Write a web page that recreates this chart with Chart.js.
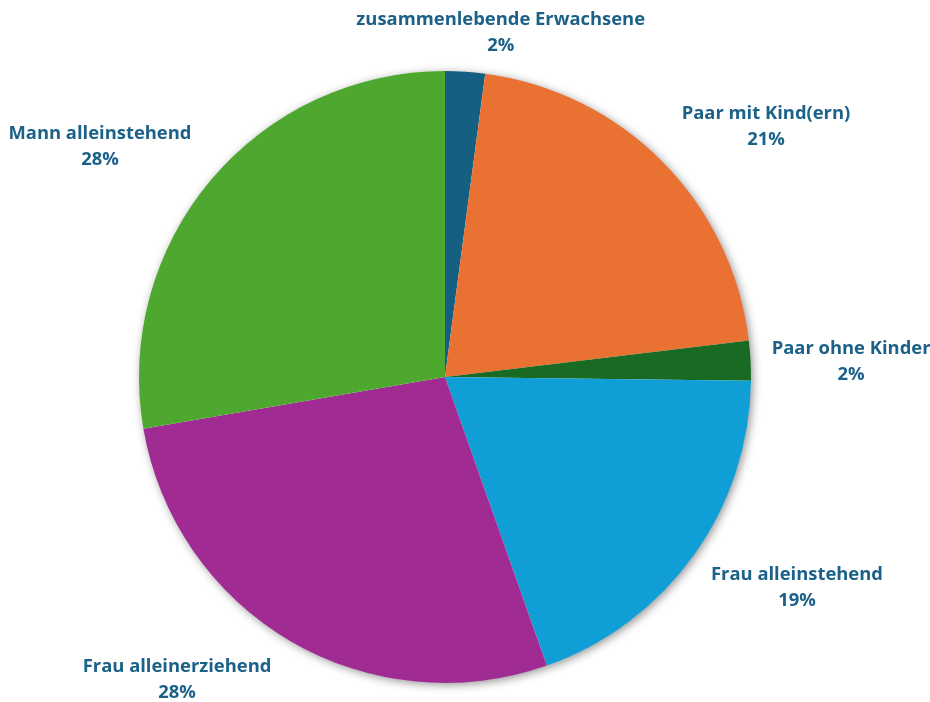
<!DOCTYPE html>
<html lang="de">
<head>
<meta charset="utf-8">
<title>Haushaltsformen</title>
<script src="https://cdn.jsdelivr.net/npm/chart.js@4/dist/chart.umd.min.js"></script>
<style>
  html, body { margin: 0; padding: 0; background: #ffffff; }
  #wrap { width: 930px; height: 702px; position: relative; }
</style>
</head>
<body>
<div id="wrap"><canvas id="pie" width="930" height="702"></canvas></div>
<script>
// Haushaltsformen – Anteile in Prozent
const categories = [
  'zusammenlebende Erwachsene',
  'Paar mit Kind(ern)',
  'Paar ohne Kinder',
  'Frau alleinstehend',
  'Frau alleinerziehend',
  'Mann alleinstehend'
];
const shares = [2.1, 21.0, 2.1, 19.4, 27.7, 27.7];
const sliceColors = ['#156082', '#E97132', '#196B24', '#0F9ED5', '#A02B93', '#4EA72E'];

// label placement: angular shift from the slice middle (deg) and distance in radii
const labelShift = [5.4, 6.7, 0.9, -4.7, 11.1, -6.4];
const labelDist  = [1.141, 1.330, 1.328, 1.341, 1.321, 1.356];

const total = shares.reduce((a, b) => a + b, 0);

// soft shadow under the whole pie
const pieShadow = {
  id: 'pieShadow',
  beforeDatasetsDraw(chart) {
    const arc = chart.getDatasetMeta(0).data[0];
    if (!arc) return;
    const ctx = chart.ctx;
    ctx.save();
    ctx.shadowColor = 'rgba(0,0,0,0.45)';
    ctx.shadowBlur = 10;
    ctx.shadowOffsetX = 2;
    ctx.shadowOffsetY = 2;
    ctx.fillStyle = '#ffffff';
    ctx.beginPath();
    ctx.arc(arc.x, arc.y, arc.outerRadius - 0.5, 0, Math.PI * 2);
    ctx.fill();
    ctx.restore();
  }
};

// category name and rounded percentage outside each slice
const outerLabels = {
  id: 'outerLabels',
  afterDatasetsDraw(chart) {
    const ctx = chart.ctx;
    const arcs = chart.getDatasetMeta(0).data;
    ctx.save();
    ctx.font = 'bold 18.4px "Open Sans", "Noto Sans", sans-serif';
    ctx.fillStyle = '#1B6188';
    ctx.textAlign = 'center';
    ctx.textBaseline = 'middle';
    arcs.forEach((arc, i) => {
      const mid = (arc.startAngle + arc.endAngle) / 2 + labelShift[i] * Math.PI / 180;
      const r = arc.outerRadius * labelDist[i];
      const x = arc.x + Math.cos(mid) * r;
      const y = arc.y + Math.sin(mid) * r;
      const pct = Math.round(shares[i] / total * 100) + '%';
      ctx.fillText(categories[i], x, y - 13);
      ctx.fillText(pct, x, y + 13);
    });
    ctx.restore();
  }
};

new Chart(document.getElementById('pie'), {
  type: 'pie',
  data: {
    labels: categories,
    datasets: [{
      data: shares,
      backgroundColor: sliceColors,
      borderWidth: 0
    }]
  },
  options: {
    responsive: false,
    animation: false,
    events: [],
    layout: { padding: { top: 71, bottom: 19, left: 0, right: 40 } },
    plugins: {
      legend: { display: false },
      tooltip: { enabled: false }
    }
  },
  plugins: [pieShadow, outerLabels]
});
</script>
</body>
</html>
